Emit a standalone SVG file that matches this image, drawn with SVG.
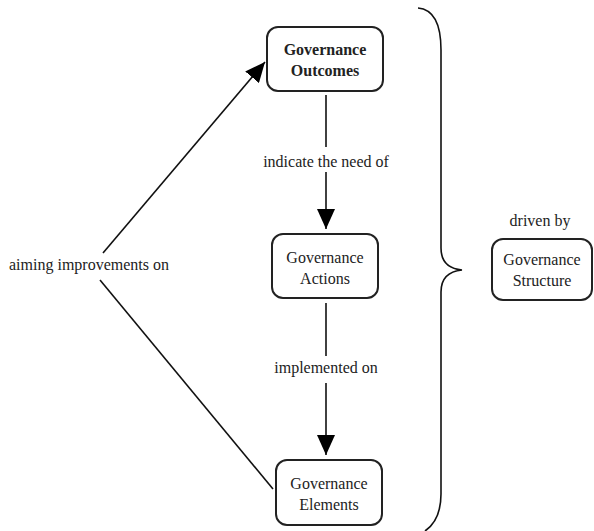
<svg xmlns="http://www.w3.org/2000/svg" width="594" height="531" viewBox="0 0 594 531" font-family="'Liberation Serif', 'Times New Roman', Times, serif">
<style>
text{font-family:'Liberation Serif', Tinos, 'Times New Roman', Times, serif;font-size:16px;fill:#222;text-anchor:middle}
.b{font-weight:bold}
.box{fill:#fff;stroke:#222;stroke-width:2}
.ln{fill:none;stroke:#111;stroke-width:1.6}
</style>
<defs>
<marker id="big" markerUnits="userSpaceOnUse" viewBox="0 0 20 18" refX="20" refY="9" markerWidth="20" markerHeight="18" orient="auto">
<path d="M0,0 L20,9 L0,18 Z" fill="#000"/>
</marker>
</defs>
<g id="connectors">
<line class="ln" x1="326" y1="95" x2="326" y2="147"/>
<text x="326" y="167">indicate the need of</text>
<line class="ln" x1="326" y1="172" x2="326" y2="229" marker-end="url(#big)"/>
<line class="ln" x1="326" y1="303" x2="326" y2="356"/>
<text x="326" y="373">implemented on</text>
<line class="ln" x1="326" y1="383" x2="326" y2="455" marker-end="url(#big)"/>
<line class="ln" x1="103" y1="253" x2="265" y2="62" marker-end="url(#big)"/>
<line class="ln" x1="100" y1="280" x2="273" y2="489"/>
<text x="89" y="270">aiming improvements on</text>
<path class="ln" d="M418,8 Q441,10 441,50 L441,248 Q441,268 462,270 Q441,272 441,292 L441,494 Q441,520 425,531"/>
<text x="540" y="226">driven by</text>
</g>
<g id="outcomes">
<rect class="box" x="267" y="27" width="116" height="64" rx="11"/>
<text class="b" x="325" y="55">Governance</text>
<text class="b" x="325" y="76">Outcomes</text>
</g>
<g id="actions">
<rect class="box" x="272" y="234" width="106" height="64" rx="11"/>
<text x="325" y="263">Governance</text>
<text x="325" y="284">Actions</text>
</g>
<g id="elements">
<rect class="box" x="276" y="460" width="106" height="65" rx="11"/>
<text x="329" y="489">Governance</text>
<text x="329" y="510">Elements</text>
</g>
<g id="structure">
<rect class="box" x="492" y="239" width="100" height="61" rx="11"/>
<text x="542" y="265">Governance</text>
<text x="542" y="286">Structure</text>
</g>
</svg>
